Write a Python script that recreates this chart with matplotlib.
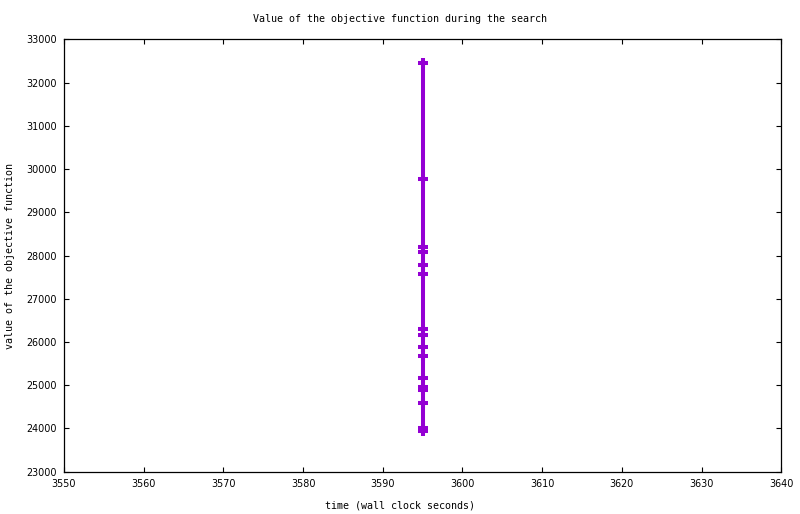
import matplotlib
matplotlib.use("Agg")
import matplotlib.pyplot as plt

times = [3595] * 16
values = [32450, 29770, 28190, 28070, 27780, 27570, 26290, 26160,
          25880, 25670, 25160, 24950, 24880, 24590, 24020, 23940]
xticks = [3550, 3560, 3570, 3580, 3590, 3600, 3610, 3620, 3630, 3640]
yticks = list(range(23000, 33001, 1000))

fig = plt.figure(figsize=(8, 5.14), dpi=100)
ax = fig.add_axes([0.08, 0.0823, 0.8966, 0.8412])
ax.plot(times, values, color="#9400D3", linewidth=2.9, marker="+",
        markersize=7.2, markeredgewidth=2.9, solid_capstyle="butt")
ax.set_xlim(3550, 3640)
ax.set_ylim(23000, 33000)
ax.set_xticks(xticks)
ax.set_yticks(yticks)
ax.set_xticklabels([str(t) for t in xticks], fontsize=6.9, family="DejaVu Sans")
ax.set_yticklabels([str(t) for t in yticks], fontsize=6.9, family="DejaVu Sans")
ax.tick_params(direction="in", length=3.6, width=0.8, top=True, right=True, pad=5)
for s in ax.spines.values():
    s.set_linewidth(0.9)
mono = "DejaVu Sans Mono"
fig.text(0.5, 1 - 19 / 514, "Value of the objective function during the search",
         ha="center", va="center", fontsize=7.2, family=mono)
fig.text(0.5, 1 - 505 / 514, "time (wall clock seconds)",
         ha="center", va="center", fontsize=7.2, family=mono)
fig.text(10 / 800, 1 - 256 / 514, "value of the objective function",
         ha="center", va="center", rotation=90, fontsize=7.2, family=mono)
fig.savefig("out.png", dpi=100)
